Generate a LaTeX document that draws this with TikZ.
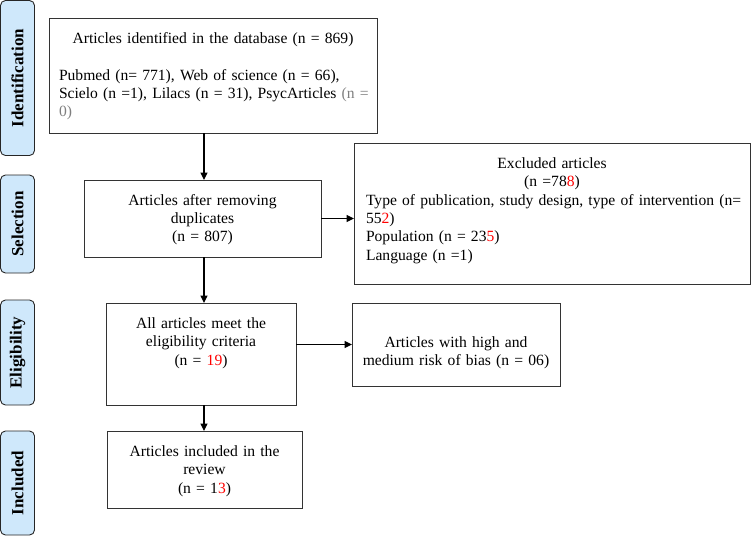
\documentclass[tikz,border=0pt]{standalone}
\usepackage{fontspec}
\setmainfont{Liberation Serif}
\usetikzlibrary{arrows.meta,positioning}
\definecolor{stageblue}{HTML}{CFE8FB}
\definecolor{hit}{HTML}{FF0000}
\definecolor{faint}{HTML}{7F7F7F}
\newcommand{\hit}[1]{\textcolor{hit}{#1}}

\begin{document}
\begin{tikzpicture}[
  x=1pt, y=-1pt,
  font=\fontsize{15.6}{18.3}\selectfont,
  box/.style={draw=black!80, line width=0.9pt, inner xsep=6pt, inner ysep=0pt, outer sep=0pt, align=center},
  stage/.style={draw=black!85, fill=stageblue, rounded corners=5pt, line width=0.9pt, rotate=90,
    minimum height=34pt, inner sep=0pt, font=\fontsize{17}{20}\selectfont\bfseries},
  arr/.style={-{Triangle[length=7.5pt,width=7pt]}, line width=1.2pt}
]
  \useasboundingbox (0,0) rectangle (751,536);

  \node[stage, minimum width=155pt] (identlab) at (17.5,78) {Identification};
  \node[stage, minimum width=98pt] (sellab) at (17.5,224) {Selection};
  \node[stage, minimum width=105pt] (eliglab) at (17.5,352.5) {Eligibility};
  \node[stage, minimum width=104pt] (incllab) at (17.5,483) {Included};

  \node[box, inner xsep=10pt, text width=308pt, align=left, text height=25.5pt, text depth=89.5pt] (found) at (213,75.5)
    {\makebox[\linewidth]{Articles identified in the database (n = 869)}\\[18.3pt]
     \mbox{Pubmed (n= 771), Web of science (n = 66),}\\
     \mbox{Scielo (n =1), Lilacs (n = 31), PsycArticles \textcolor{faint}{(n =}}\\
     \textcolor{faint}{0)}};
  \node[box, text width=225pt, text height=25pt, text depth=52pt] (dedup) at (202.5,218.5)
    {Articles after removing\\ duplicates\\ (n = 807)};
  \node[box, inner xsep=12pt, text width=372pt, align=left, text height=25.5pt, text depth=115.5pt] (excluded) at (552,213.5)
    {\makebox[\linewidth]{Excluded articles}\\
     \makebox[\linewidth]{(n =78\hit{8})}\\
     \mbox{Type of publication, study design, type of intervention (n=}\\
     55\hit{2})\\
     Population (n = 23\hit{5})\\
     Language (n =1)};
  \node[box, text width=178pt, text height=25.5pt, text depth=76.5pt] (eligible) at (201,354)
    {All articles meet the\\ eligibility criteria\\ (n = \hit{19})};
  \node[box, text width=196pt, text height=44.5pt, text depth=38.5pt] (biased) at (456,344.5)
    {Articles with high and\\ medium risk of bias (n = 06)};
  \node[box, text width=183pt, text height=25.5pt, text depth=51.5pt] (included) at (204.5,469.5)
    {Articles included in the\\ review\\ (n = 1\hit{3})};

  \coordinate (spine) at (204,0);
  \draw[arr] (found.south -| spine) -- (dedup.north -| spine);
  \draw[arr] (dedup.south -| spine) -- (eligible.north -| spine);
  \draw[arr] (eligible.south -| spine) -- (included.north -| spine);
  \draw[arr] (dedup.east) -- (dedup.east -| excluded.west);
  \draw[arr] (biased.west -| eligible.east) -- (biased.west);
\end{tikzpicture}
\end{document}
